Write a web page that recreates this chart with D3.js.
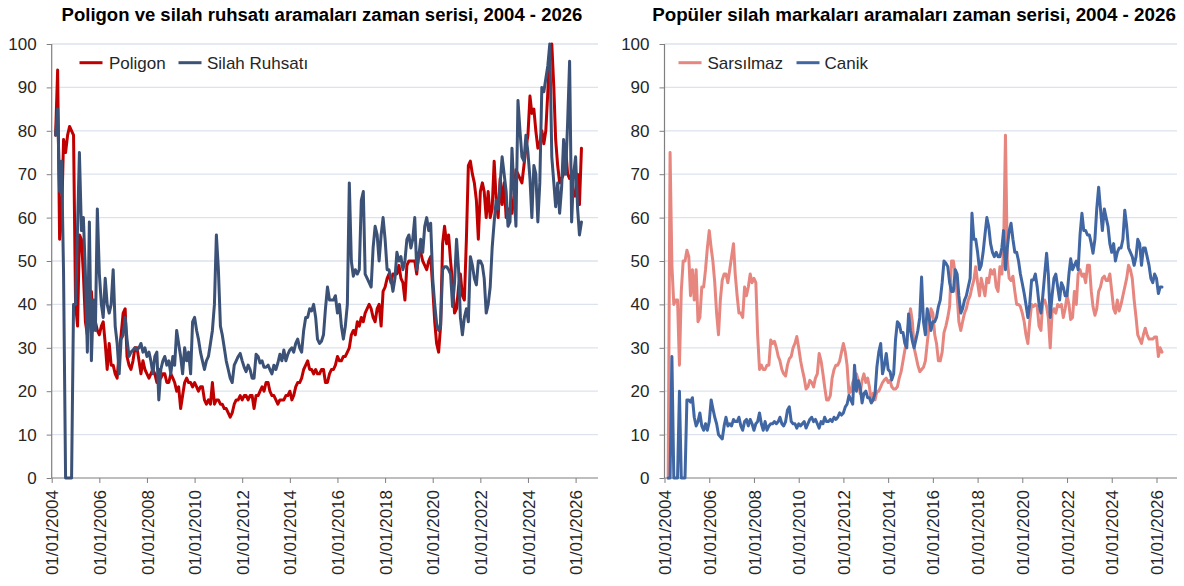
<!DOCTYPE html>
<html><head><meta charset="utf-8">
<script src="https://cdn.jsdelivr.net/npm/d3@7"></script>
<style>body{margin:0;background:#fff}svg{display:block}</style>
</head><body>
<svg id="c" width="1184" height="586"></svg>
<script>
// Monthly series, first value = March 2004
const startYear = 2004, startMonth = 2;

const poligon = [
79,94,55,60,78,75,79,81,80,79,40,35,
56,55,47,36,33,37,43,34,36,34,33,35,
36,31,25,31,26,26,24,23,29,33,38,39,
28,26,25,27,30,30,27,24,27,25,24,23,
24,25,24,22,25,23,24,24,22,22,24,23,
22,20,21,16,19,22,23,22,22,21,22,21,
20,21,21,18,17,18,17,22,17,18,18,17,
17,16,16,15,14,15,17,18,18,
19,18,19,19,18,19,19,16,19,19,20,21,
20,22,22,20,19,19,18,17,18,18,18,19,
19,20,18,19,21,22,22,23,25,26,27,25,
25,24,25,24,24,25,25,22,22,24,25,25,
26,28,27,27,28,28,29,30,33,34,33,36,
35,37,36,38,39,40,39,37,36,39,40,35,
43,44,46,47,45,47,47,47,49,
46,45,41,49,50,50,50,50,47,52,52,50,
49,48,50,51,44,36,31,29,35,54,58,54,
56,50,45,38,39,44,47,42,41,55,72,73,
70,68,64,55,66,68,66,60,66,60,62,73,
64,60,69,63,68,60,62,62,61,65,71,70,
69,68,72,76,79,88,84,85,80,76,77,80,
77,80,89,98,100,90,78,72,68,69,70,76,
70,69,70,65,65,70,63,76
];

const silahRuhsati = [
79,85,66,73,47,0,0,0,0,40,40,58,
75,57,60,47,29,59,27,41,34,62,47,40,
37,46,40,38,40,48,35,31,24,32,33,37,
32,28,29,29.5,30,29.5,30,31,29,30,28,29,
27,24,28,29,18,25,27,28,26,27,24,28,
26,34,31,28,24,30,27,29,24,36,37,34,
32,29,27,25,27,28,31,34,40,56,48,35,
33,30,27,25,23,22,26,27,28,
28.7,27,25.5,24.5,26,25,23,23,28.5,28,26.5,27,
25.5,25.5,26,25,24,26,25,26.5,28.5,27,29.5,27,
28.5,29.5,30,29,31,32,30,29,34,37,37,39,
38.5,40,37,32,31,31.5,33,39,44,41,41,41,
42,38,40,35,32,35,40,68,50,46.5,48,47,
48,64,66,47,46,45,44,53,58,56,50,56,
60,55,48,48,46,43,46,52,50,
51,48,50,55,56,53,55,60,48,51,55,52,
58,60,57,58.7,46,40,35.6,34,35,48,48.7,48.7,
48,47,39.5,45,55,48,37,33,37,39,36,51,
49,46,44.5,50,50,49,46,38,40,44,53,59,
64,62,68,74,70,66,58,59,76,66,58,87,
80,74,73,79,75,69,60,72,70,59,68,90,
89,92,95,100,74,68,62.5,68,61,67,78,70,
82,96,59,70,74,62,56,59
];

const sarsilmaz = [
0,75,49,40,41,41,26,43,50,50,52.5,51,
42,48,41,48,36,37,44,44,48,53,57,53,
50,45,38,33,41,45.6,47,47,45,48,51,54,
47,42,38,38,37,44,42,44,47,45,46,45,
33,25,26,25,25,26,26,31.8,31,31.5,30,28,
27,25,24,23.5,26,27.5,28,30,31,32.6,30,27,
25,23,20.5,21,22.5,22,21,23,24,28.7,27,24,
21,18,18,19,23,25,
26,26,27,29,31,29,26,19.5,20,22,23,24,
22.5,19.5,22.5,24,22,23,21,17.5,19.5,18,20,20,
21,22,22.6,23,22,22.5,21,20.5,20.5,21,23,24.5,
27,29.5,31.8,35.6,39,36,30,28,26,24.5,25,25.5,
27,31,35,39,38,33,31,27,27,29,33.5,35,
37,39.5,50,50,47,42,36,34,36,38,39,41,
42,44,45.6,48.7,45,42,46,44,42,46,45,48,
47,48,44,43,
48.7,47,52,79,50,46,45.5,46.5,43,40,40,39.5,
38,36,33,31,36,40,39.5,40,39.5,35,34,41,
41,39.5,37,30,38,39,38,40,39.5,40,37,39,
42,40,36.5,37,43,40,47,48,46.5,47,45,49,
49,43,39.5,37.5,39,43,44,46,46.5,45.5,45.5,47,
43,39,38,41,38.5,40,42,44,46,49,48,46,
41,37,33,32,31,33,34.5,33,32,32,32,32.5,
32.5,28,30,29
];

const canik = [
0,0,28,0,0,0,20,0,0,0,18,18,
17.5,18.5,14,12,13,15,12,11,12.5,11,13,18,
16,14,12.5,10,9.5,9,12,14,12,12.5,12,13.5,
13,13,14,12,11,13,13.5,12,13.5,12.5,11,12.5,
13,15,12.5,11,13,11,12,12.5,12.5,13,12.5,13,
14,12.5,12,13,15.6,16.4,13,12.5,12.5,11.5,12.5,12,
12.5,13,11.5,12.5,13.5,14,13,13.5,12.5,11.5,13,12.5,
14,13,13,13.5,13,14,
13.5,14,15,14.5,15,16.4,17,19,18,17,26,20,
22.4,21,17.3,19.5,20,18.5,18.5,17.3,18,19.5,25.6,29,
31,24,26,28.7,25,24.5,22.6,24,31.8,36,35.5,33.5,
33.5,31,30,37.8,34,31.5,30,32,34,37,46.3,36,
33,39,37,34,36,36,37,39.5,41,45,50,49.5,
48.7,45,43,43,48,47,42,38,39,41,42,44,
46,61,55,55,52,48,49,52,56,60,58,54,
52,51,52,51,
51,53,57,48,53,57,58.7,55,52,52,50,47,
44.8,42.5,40,37,40,45.6,45.6,47,44,40,38,42,
47,51.8,47,37,42,46,47,44,41,45,44,42,
42,47,50.5,48,49,50,48,56,61,57,57,56,
56,54,51.8,55,62,67,62,57,62,60,58,54,
52,54,50,52,53,53,55,61.7,58,53,52,51,
49,51,55,54,49,53,53,51,49,46,45,47,
46,42.5,44,44
];

const yTicks = [0,10,20,30,40,50,60,70,80,90,100];
const tickYears = [2004,2006,2008,2010,2012,2014,2016,2018,2020,2022,2024,2026];
const tickLabels = ["01/01/2004","01/01/2006","01/01/2008","01/01/2010","01/01/2012","01/01/2014","01/01/2016","01/01/2018","01/01/2020","01/01/2022","01/01/2024","01/01/2026"];

const panels = [
  {title:"Poligon ve silah ruhsatı aramaları zaman serisi, 2004 - 2026",
   titleX:322, titleW:521,
   x0:51.7, x26:575.6, xEnd:598,
   series:[{name:"Poligon", data:poligon, color:"#C00000"},
           {name:"Silah Ruhsatı", data:silahRuhsati, color:"#3B5176"}],
   legend:[{lx:79.5, tx:109},{lx:178.5, tx:207}]},
  {title:"Popüler silah markaları aramaları zaman serisi, 2004 - 2026",
   titleX:914, titleW:524,
   x0:664.5, x26:1156.5, xEnd:1177,
   series:[{name:"Sarsılmaz", data:sarsilmaz, color:"#E6867F"},
           {name:"Canik", data:canik, color:"#4067A3"}],
   legend:[{lx:678.5, tx:707.5},{lx:796.5, tx:824.5}]}
];

const svg = d3.select("#c");
const FONT = "'Liberation Sans', Arial, sans-serif";
const yTop = 44, yBot = 478;
const y = d3.scaleLinear().domain([0,100]).range([yBot, yTop]);
const dateAt = i => new Date(startYear, startMonth + i, 1);

panels.forEach(p => {
  const g = svg.append("g");
  const x = d3.scaleTime()
    .domain([new Date(2004,0,1), new Date(2026,0,1)])
    .range([p.x0, p.x26]);

  // gridlines
  g.append("g").selectAll("line").data(yTicks.filter(v => v > 0)).join("line")
    .attr("x1", p.x0).attr("x2", p.xEnd)
    .attr("y1", d => y(d)).attr("y2", d => y(d))
    .attr("stroke", "#DDE3EE").attr("stroke-width", 1.3);

  // y axis
  const ya = g.append("g").attr("transform", `translate(${p.x0},0)`)
    .call(d3.axisLeft(y).tickValues(yTicks).tickSize(5).tickPadding(10).tickFormat(d3.format("d")));
  ya.select(".domain").remove();
  ya.selectAll("line").attr("stroke", "#7F7F7F");
  ya.selectAll("text").attr("font-family", FONT).attr("font-size", 17).attr("fill", "#262626");
  g.append("line").attr("x1", p.x0).attr("x2", p.x0).attr("y1", yTop).attr("y2", yBot)
    .attr("stroke", "#7F7F7F").attr("stroke-width", 1.2);

  // x axis
  const xa = g.append("g").attr("transform", `translate(0,${yBot})`)
    .call(d3.axisBottom(x).tickValues(tickYears.map(yr => new Date(yr,0,1)))
      .tickSize(5).tickFormat((d,i) => tickLabels[i]));
  xa.select(".domain").remove();
  xa.selectAll("line").attr("stroke", "#7F7F7F");
  xa.selectAll("text")
    .attr("font-family", FONT).attr("font-size", 17).attr("fill", "#262626")
    .attr("text-anchor", "end")
    .attr("transform", "rotate(-90)")
    .attr("x", -12).attr("y", 0).attr("dy", "0.36em");
  g.append("line").attr("x1", p.x0).attr("x2", p.xEnd).attr("y1", yBot).attr("y2", yBot)
    .attr("stroke", "#7F7F7F").attr("stroke-width", 1.2);

  // lines
  const line = d3.line().x((d,i) => x(dateAt(i))).y(d => y(d));
  p.series.forEach(s => {
    g.append("path").datum(s.data).attr("d", line)
      .attr("fill", "none").attr("stroke", s.color).attr("stroke-width", 3)
      .attr("stroke-linejoin", "round").attr("stroke-linecap", "round");
  });

  // legend
  p.series.forEach((s, i) => {
    const L = p.legend[i];
    g.append("line").attr("x1", L.lx).attr("x2", L.lx + 23).attr("y1", 62.7).attr("y2", 62.7)
      .attr("stroke", s.color).attr("stroke-width", 3);
    g.append("text").attr("x", L.tx).attr("y", 68.7).text(s.name)
      .attr("font-family", FONT).attr("font-size", 17).attr("fill", "#262626");
  });

  // title
  const t = g.append("text").attr("x", p.titleX).attr("y", 21)
    .attr("text-anchor", "middle").attr("font-family", FONT)
    .attr("font-weight", "bold").attr("font-size", 16).attr("fill", "#000")
    .text(p.title);
  const w = t.node().getComputedTextLength();
  t.attr("font-size", 16 * p.titleW / w);
});
</script>
</body></html>
